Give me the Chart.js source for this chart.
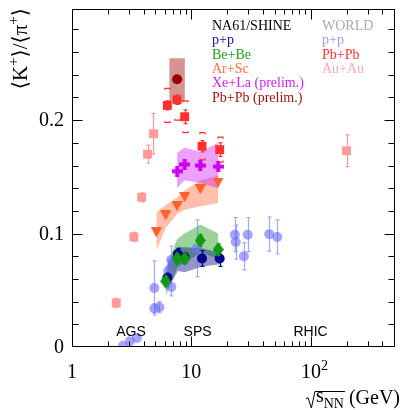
<!DOCTYPE html>
<html>
<head>
<meta charset="utf-8">
<script src="https://cdn.jsdelivr.net/npm/chart.js@4.4.0/dist/chart.umd.min.js"></script>
<style>
  html, body { margin: 0; padding: 0; background: #fff; }
</style>
</head>
<body>
<canvas id="kpiChart" width="402" height="410"></canvas>
<script>
// --- NA61/SHINE ---
const ppX = [6.3, 7.7, 8.8, 12.3, 17.3];
const ppY = [0.061, 0.082, 0.079, 0.078, 0.078];
const ppErr = [0.004, 0.005, 0.004, 0.007, 0.007];
const ppBandLo = [0.050, 0.067, 0.066, 0.071, 0.073];
const ppBandHi = [0.072, 0.088, 0.088, 0.087, 0.083];

const beX = [6.1, 7.6, 8.8, 11.9, 16.8];
const beY = [0.058, 0.078, 0.078, 0.094, 0.086];
const beErr = [0.004, 0.004, 0.004, 0.005, 0.005];
const beBandLo = [0.045, 0.070, 0.074, 0.083, 0.078];
const beBandHi = [0.070, 0.095, 0.100, 0.108, 0.100];

const arX = [5.1, 6.1, 7.6, 8.8, 11.9, 16.8];
const arY = [0.101, 0.116, 0.124, 0.132, 0.139, 0.145];
const arBandLo = [0.085, 0.105, 0.117, 0.121, 0.124, 0.127];
const arBandHi = [0.119, 0.125, 0.132, 0.138, 0.147, 0.151];

const xeX = [7.6, 8.8, 11.9, 16.8];
const xeY = [0.155, 0.161, 0.160, 0.159];
const xeBandLo = [0.140, 0.147, 0.1445, 0.140];
const xeBandHi = [0.171, 0.176, 0.172, 0.180];

const pbNaX = [7.6];
const pbNaY = [0.236];
const pbNaBoxX = [6.53, 8.84];
const pbNaBoxLo = [0.216, 0.216];
const pbNaBoxHi = [0.2546, 0.2546];

// --- WORLD ---
const wppX = [2.68, 3.06, 3.5, 4.9, 4.9, 5.4, 6.4, 6.8, 6.8, 11.1, 23.2, 23.6, 27.6, 29.7, 45, 52.5];
const wppY = [0.001, 0.005, 0.008, 0.052, 0.034, 0.035, 0.067, 0.077, 0.053, 0.087, 0.099, 0.0925, 0.080, 0.099, 0.0995, 0.097];
const wppErr = [0, 0, 0, 0.024, 0.004, 0.005, 0.010, 0.012, 0.008, 0.025, 0.015, 0.015, 0.012, 0.015, 0.015, 0.015];

const wpbX = [6.3, 7.6, 8.8, 12.3, 17.3];
const wpbY = [0.213, 0.218, 0.203, 0.177, 0.174];
const wpbErr = [0.004, 0.004, 0.006, 0.005, 0.006];
const wpbSys = [0.015, 0.018, 0.014, 0.012, 0.011];

const auX = [2.35, 3.3, 3.84, 4.3, 4.82, 200];
const auY = [0.0388, 0.097, 0.132, 0.170, 0.188, 0.173];
const auErr = [0.004, 0.004, 0.004, 0.008, 0.018, 0.014];

// axis ticks and labels
const xMajor = [1, 10, 100];
const xMax = 510;
const yMax = 0.298;
const yMajor = [0, 0.1, 0.2];
const yLabels = ['0', '0.1', '0.2'];
const accLabels = ['AGS', 'SPS', 'RHIC'];
const accX = [3.12, 11.3, 100];
const accY = 0.0097;

const SERIF = '"Liberation Serif", "DejaVu Serif", serif';
const SANS = '"Liberation Sans", Arial, sans-serif';

function pts(xs, ys) {
  return xs.map((x, i) => ({ x: x, y: ys[i] }));
}

// маркеры, которых нет в Chart.js
function makeMarker(w, h, color, draw) {
  const c = document.createElement('canvas');
  c.width = w; c.height = h;
  const g = c.getContext('2d');
  g.fillStyle = color;
  draw(g, w, h);
  return c;
}
const diamond = makeMarker(11, 15, '#119a11', (g, w, h) => {
  g.beginPath();
  g.moveTo(w / 2, 0); g.lineTo(w, h / 2); g.lineTo(w / 2, h); g.lineTo(0, h / 2);
  g.closePath(); g.fill();
});
const triDown = makeMarker(11, 10, '#ff5f28', (g, w, h) => {
  g.beginPath();
  g.moveTo(0, 0); g.lineTo(w, 0); g.lineTo(w / 2, h);
  g.closePath(); g.fill();
});
const thickCross = makeMarker(11, 11, '#cc00f0', (g, w, h) => {
  g.fillRect(0, 3.5, w, 4);
  g.fillRect(3.5, 0, 4, h);
});

function band(xs, lo, hi, color) {
  return [
    { type: 'line', data: pts(xs, hi), borderWidth: 0, pointRadius: 0, fill: '+1', backgroundColor: color, tension: 0 },
    { type: 'line', data: pts(xs, lo), borderWidth: 0, pointRadius: 0, fill: false, tension: 0 }
  ];
}

// back to front
const datasets = [
  ...band(arX, arBandLo, arBandHi, 'rgba(255,105,55,0.42)'),
  ...band(xeX, xeBandLo, xeBandHi, 'rgba(204,0,255,0.37)'),
  ...band(beX, beBandLo, beBandHi, 'rgba(30,160,30,0.45)'),
  ...band(ppX, ppBandLo, ppBandHi, 'rgba(20,20,140,0.45)'),
  ...band(pbNaBoxX, pbNaBoxLo, pbNaBoxHi, 'rgba(153,0,0,0.42)'),
  { data: pts(wppX, wppY), errY: wppErr, errColor: 'rgba(110,110,255,0.6)', pointStyle: 'circle', pointRadius: 5, backgroundColor: 'rgba(110,110,255,0.62)', borderWidth: 0 },
  { data: pts(auX, auY), errY: auErr, errColor: '#ff9a9a', pointStyle: 'rect', pointRadius: 6.3, backgroundColor: '#ff9a9a', borderWidth: 0 },
  { data: pts(wpbX, wpbY), errY: wpbErr, sysY: wpbSys, errColor: '#ff3030', pointStyle: 'rect', pointRadius: 6.3, backgroundColor: '#ff3030', borderWidth: 0 },
  { data: pts(ppX, ppY), errY: ppErr, errColor: '#000088', pointStyle: 'circle', pointRadius: 5, backgroundColor: '#000088', borderWidth: 0 },
  { data: pts(beX, beY), errY: beErr, errColor: '#119a11', pointStyle: diamond, pointRadius: 6 },
  { data: pts(arX, arY), pointStyle: triDown, pointRadius: 6 },
  { data: pts(xeX, xeY), pointStyle: thickCross, pointRadius: 6 },
  { data: pts(pbNaX, pbNaY), pointStyle: 'circle', pointRadius: 5, backgroundColor: '#990000', borderWidth: 0 }
];
datasets.forEach((d, i) => { d.order = datasets.length - i; });

// ошибки: статистические и систематические
const errorBars = {
  id: 'errorBars',
  beforeDatasetDraw(chart, args) {
    const ds = chart.data.datasets[args.index];
    if (!ds.errY && !ds.sysY) return;
    const { ctx, chartArea: a, scales: { x, y } } = chart;
    ctx.save();
    ctx.beginPath();
    ctx.rect(a.left, a.top, a.right - a.left, a.bottom - a.top);
    ctx.clip();
    ctx.strokeStyle = ds.errColor;
    ctx.lineWidth = 1.2;
    ds.data.forEach((p, i) => {
      const px = Math.round(x.getPixelForValue(p.x)) + 0.5;
      const e = ds.errY ? ds.errY[i] : 0;
      if (e > 0) {
        const t = y.getPixelForValue(p.y + e);
        const b = y.getPixelForValue(p.y - e);
        ctx.beginPath();
        ctx.moveTo(px, t); ctx.lineTo(px, b);
        ctx.moveTo(px - 2, t); ctx.lineTo(px + 2, t);
        ctx.moveTo(px - 2, b); ctx.lineTo(px + 2, b);
        ctx.stroke();
      }
      if (ds.sysY) {
        const s = ds.sysY[i];
        const t = y.getPixelForValue(p.y + s);
        const b = y.getPixelForValue(p.y - s);
        ctx.beginPath();
        ctx.moveTo(px - 2.5, t + 1.5); ctx.lineTo(px - 2.5, t); ctx.lineTo(px + 2.5, t); ctx.lineTo(px + 2.5, t + 1.5);
        ctx.moveTo(px - 2.5, b - 1.5); ctx.lineTo(px - 2.5, b); ctx.lineTo(px + 2.5, b); ctx.lineTo(px + 2.5, b - 1.5);
        ctx.stroke();
      }
    });
    ctx.restore();
  }
};

// текст с верхними/нижними индексами
function richText(ctx, parts, x, y, size, align) {
  const fontOf = m => (m ? Math.round(size * 0.7) : size) + 'px ' + SERIF;
  const widths = parts.map(([t, m]) => { ctx.font = fontOf(m); return ctx.measureText(t).width; });
  const total = widths.reduce((s, w) => s + w, 0);
  let cx = align === 'right' ? x - total : align === 'center' ? x - total / 2 : x;
  ctx.textAlign = 'left';
  ctx.textBaseline = 'alphabetic';
  parts.forEach(([t, m], i) => {
    ctx.font = fontOf(m);
    const dy = m === 1 ? -size * 0.42 : m === -1 ? size * 0.28 : 0;
    ctx.fillText(t, cx, y + dy);
    cx += widths[i];
  });
  return total;
}

const frame = {
  id: 'frame',
  afterDraw(chart) {
    const { ctx, chartArea: a, scales: { x, y } } = chart;
    ctx.save();
    ctx.strokeStyle = '#000';
    ctx.fillStyle = '#000';
    ctx.lineWidth = 1;
    const L = a.left + 0.5, R = a.right - 0.5, T = a.top + 0.5, B = a.bottom - 0.5;
    ctx.strokeRect(L, T, R - L, B - T);

    // x ticks (inward, bottom and top)
    ctx.beginPath();
    xMajor.forEach(d => {
      for (let k = 1; k <= 9; k++) {
        const v = d * k;
        if (v <= 1 || v >= xMax) continue;
        const px = Math.round(x.getPixelForValue(v)) + 0.5;
        const len = k === 1 ? 10 : 5;
        ctx.moveTo(px, B); ctx.lineTo(px, B - len);
        ctx.moveTo(px, T); ctx.lineTo(px, T + len);
      }
    });
    // y ticks (inward, left and right)
    for (let i = 1; i * 0.02 < yMax; i++) {
      const v = i * 0.02;
      const py = Math.round(y.getPixelForValue(v)) + 0.5;
      const len = i % 5 === 0 ? 10 : 6;
      ctx.moveTo(L, py); ctx.lineTo(L + len, py);
      ctx.moveTo(R, py); ctx.lineTo(R - len, py);
    }
    ctx.stroke();

    // tick labels
    ctx.font = '20px ' + SERIF;
    ctx.textAlign = 'right';
    ctx.textBaseline = 'middle';
    yMajor.forEach((v, i) => ctx.fillText(yLabels[i], 64, y.getPixelForValue(v) + 1));
    richText(ctx, [['1', 0]], x.getPixelForValue(1), 378, 20, 'center');
    richText(ctx, [['10', 0]], x.getPixelForValue(10), 378, 20, 'center');
    richText(ctx, [['10', 0], ['2', 1]], x.getPixelForValue(100) + 4, 378, 20, 'center');

    // axis titles
    ctx.save();
    ctx.font = '21px ' + SERIF;
    const yParts = [['\u27E8K', 0], ['+', 1], ['\u27E9/\u27E8\u03C0', 0], ['+', 1], ['\u27E9', 0]];
    const probe = document.createElement('canvas').getContext('2d');
    const yw = richText(probe, yParts, 0, 0, 21, 'left');
    ctx.translate(27, 8 + yw);
    ctx.rotate(-Math.PI / 2);
    richText(ctx, yParts, 0, 0, 21, 'left');
    ctx.restore();

    const gevW = richText(ctx, [['(GeV)', 0]], 400, 404, 20, 'right');
    ctx.font = '20px ' + SERIF;
    const sParts = [['s', 0], ['NN', -1]];
    const sw = richText(probe, sParts, 0, 0, 20, 'left');
    const sx = 400 - gevW - 5 - sw;
    richText(ctx, sParts, sx, 402, 20, 'left');
    ctx.beginPath();
    ctx.lineWidth = 1;
    ctx.moveTo(sx - 10, 399); ctx.lineTo(sx - 8, 397.5);
    ctx.lineTo(sx - 4.5, 408); ctx.lineTo(sx - 1, 391.5); ctx.lineTo(sx + sw + 1, 391.5);
    ctx.stroke();

    // accelerators
    ctx.font = '14px ' + SANS;
    ctx.textAlign = 'center';
    ctx.textBaseline = 'alphabetic';
    accLabels.forEach((t, i) => ctx.fillText(t, x.getPixelForValue(accX[i]), y.getPixelForValue(accY)));

    // legend
    ctx.font = '14px ' + SERIF;
    ctx.textAlign = 'left';
    const leftCol = [['NA61/SHINE', '#000000'], ['p+p', '#10109a'], ['Be+Be', '#22a022'], ['Ar+Sc', '#ff7040'], ['Xe+La (prelim.)', '#cc22ee'], ['Pb+Pb (prelim.)', '#991111']];
    const rightCol = [['WORLD', '#aaaaaa'], ['p+p', '#9c9cff'], ['Pb+Pb', '#ff3333'], ['Au+Au', '#ffaaaa']];
    leftCol.forEach(([t, c], i) => { ctx.fillStyle = c; ctx.fillText(t, 212, 30 + i * 14.3); });
    rightCol.forEach(([t, c], i) => { ctx.fillStyle = c; ctx.fillText(t, 322, 30 + i * 14.3); });
    ctx.restore();
  }
};

new Chart(document.getElementById('kpiChart'), {
  type: 'scatter',
  data: { datasets: datasets },
  options: {
    responsive: false,
    animation: false,
    events: [],
    layout: { padding: { top: 9, right: 1, left: 0, bottom: 0 } },
    plugins: { legend: { display: false }, tooltip: { enabled: false } },
    scales: {
      x: {
        type: 'logarithmic', min: 1, max: xMax,
        ticks: { display: false }, grid: { display: false }, border: { display: false },
        afterFit: s => { s.height = 63; }
      },
      y: {
        type: 'linear', min: 0, max: yMax,
        ticks: { display: false }, grid: { display: false }, border: { display: false },
        afterFit: s => { s.width = 72; }
      }
    }
  },
  plugins: [errorBars, frame]
});
</script>
</body>
</html>
